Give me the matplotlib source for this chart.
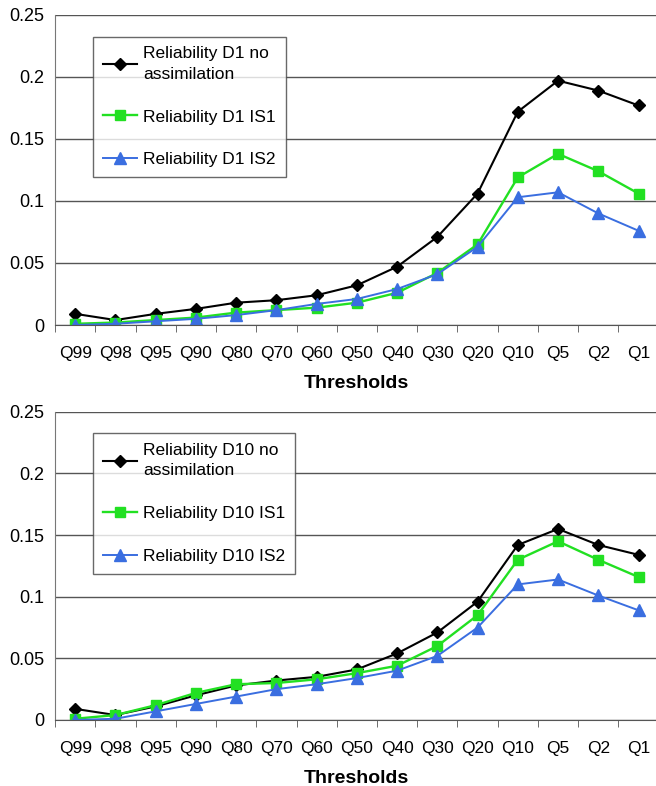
import numpy as np
import matplotlib
matplotlib.use('Agg')
import matplotlib.pyplot as plt

plt.rcParams['font.family'] = ['Liberation Sans', 'DejaVu Sans']

thresholds = ['Q99', 'Q98', 'Q95', 'Q90', 'Q80', 'Q70', 'Q60', 'Q50',
              'Q40', 'Q30', 'Q20', 'Q10', 'Q5', 'Q2', 'Q1']

# D1 lead time
d1_noassim = [0.009, 0.004, 0.009, 0.013, 0.018, 0.020, 0.024, 0.032,
              0.047, 0.071, 0.106, 0.172, 0.197, 0.189, 0.177]
d1_is1 = [0.001, 0.002, 0.004, 0.006, 0.010, 0.012, 0.014, 0.018,
          0.026, 0.042, 0.065, 0.119, 0.138, 0.124, 0.106]
d1_is2 = [0.000, 0.001, 0.003, 0.005, 0.008, 0.012, 0.017, 0.021,
          0.029, 0.041, 0.063, 0.103, 0.107, 0.090, 0.076]

# D10 lead time
d10_noassim = [0.009, 0.004, 0.011, 0.020, 0.028, 0.032, 0.035, 0.041,
               0.054, 0.071, 0.096, 0.142, 0.155, 0.142, 0.134]
d10_is1 = [0.001, 0.004, 0.012, 0.022, 0.029, 0.030, 0.033, 0.038,
           0.044, 0.060, 0.085, 0.130, 0.145, 0.130, 0.116]
d10_is2 = [0.000, 0.001, 0.007, 0.013, 0.019, 0.025, 0.029, 0.034,
           0.040, 0.052, 0.075, 0.110, 0.114, 0.101, 0.089]

fig = plt.figure(figsize=(6.56, 7.86), dpi=100)
ax1 = fig.add_axes([0.084, 0.5865, 0.92, 0.3945])
ax2 = fig.add_axes([0.084, 0.084, 0.92, 0.392])

x = np.arange(len(thresholds))


def draw(ax, black, green, blue, tag):
    ax.plot(x, black, '-', color='black', lw=1.5, marker='D', ms=6,
            label='Reliability %s no\nassimilation' % tag)
    ax.plot(x, green, '-', color='#22e022', lw=1.7, marker='s', ms=7,
            label='Reliability %s IS1' % tag)
    ax.plot(x, blue, '-', color='#3a6ee0', lw=1.4, marker='^', ms=8,
            label='Reliability %s IS2' % tag)
    ax.set_xlim(-0.5, len(thresholds) - 0.5)
    ax.set_ylim(0, 0.25)
    ax.set_yticks([0, 0.05, 0.1, 0.15, 0.2, 0.25])
    ax.set_yticklabels(['0', '0.05', '0.1', '0.15', '0.2', '0.25'], fontsize=13)
    ax.yaxis.grid(True, color='#555555', lw=1)
    ax.set_axisbelow(True)
    ax.set_xticks(x)
    ax.set_xticklabels(thresholds, fontsize=12.5)
    ax.set_xticks(np.arange(-0.5, len(thresholds)), minor=True)
    ax.tick_params(axis='x', which='major', length=0, pad=15)
    ax.tick_params(axis='x', which='minor', length=5, direction='out', color='#555555')
    ax.tick_params(axis='y', length=0, pad=8)
    for s in ['top', 'right']:
        ax.spines[s].set_visible(False)
    ax.spines['left'].set_color('#777777')
    ax.spines['bottom'].set_color('#555555')
    ax.set_xlabel('Thresholds', fontsize=14, fontweight='bold', labelpad=10)
    leg = ax.legend(loc='upper left', bbox_to_anchor=(0.063, 0.93), fontsize=12.5,
                    frameon=True, fancybox=False, edgecolor='#444444',
                    handlelength=2.0, labelspacing=1.6, borderpad=0.55,
                    handletextpad=0.35, borderaxespad=0)
    for t in leg.get_texts():
        t.set_linespacing(1.45)
    leg.get_frame().set_linewidth(1.0)


draw(ax1, d1_noassim, d1_is1, d1_is2, 'D1')
draw(ax2, d10_noassim, d10_is1, d10_is2, 'D10')

fig.savefig('out.png', dpi=100)
